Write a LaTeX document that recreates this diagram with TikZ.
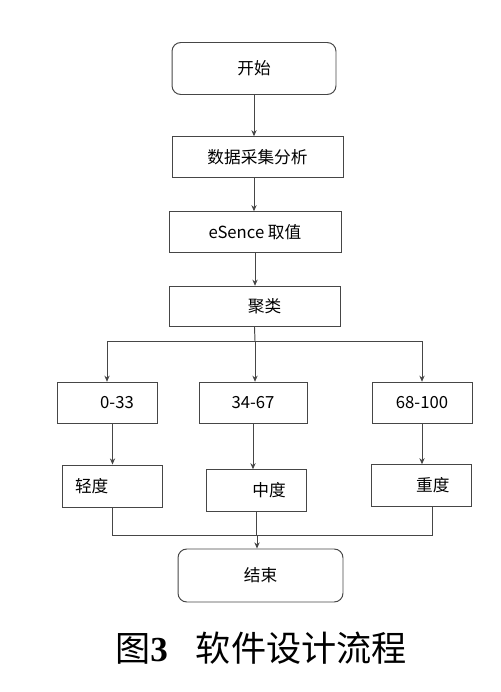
\documentclass[tikz,border=0pt]{standalone}
\usepackage{fontspec}
\setmainfont{Noto Sans CJK SC}
\newfontfamily\numfont{Liberation Serif}
\usepackage{tikz}
\usetikzlibrary{arrows.meta, positioning, calc}
\definecolor{mydark}{RGB}{70,70,70}
\tikzset{
  term/.style={rectangle, draw=mydark, rounded corners=5pt,
    minimum width=3.28cm, minimum height=1.04cm, align=center,
    font=\fontsize{9.5}{11}\selectfont, line width=0.55pt},
  proc/.style={rectangle, draw=mydark,
    minimum width=3.42cm, minimum height=0.81cm, align=center,
    font=\fontsize{9.5}{11}\selectfont, line width=0.55pt},
  rangebox/.style={rectangle, draw=mydark,
    minimum width=2cm, minimum height=0.83cm, align=center,
    font=\fontsize{9.5}{11}\selectfont, line width=0.55pt},
  arrow/.style={-{Stealth[length=3.5pt, width=3pt]}, line width=0.55pt, color=mydark},
  line/.style={line width=0.55pt, color=mydark}
}
\begin{document}
\begin{tikzpicture}[x=0.02cm, y=-0.02cm]
  \useasboundingbox (0,0) rectangle (500,692);

  % Main chain
  \node[term] (start) at (254, 68.5) {开始};
  \node[proc] (collect) at (257.5, 157) {数据采集分析};
  \node[proc, minimum width=3.44cm] (value) at (255, 232) {eSence 取值};
  \node[proc] (cluster) at (254.5, 306.5) {\hspace*{0.4cm}聚类};

  % Ranges
  \node[rangebox] (r1) at (107, 403) {\hspace*{0.4cm}0-33};
  \node[rangebox, minimum width=2.16cm] (r2) at (253, 403) {34-67};
  \node[rangebox] (r3) at (422, 403) {68-100};

  % Levels
  \node[rangebox, minimum height=0.84cm, text width=1.5cm, inner xsep=0.24cm, align=left] (lvl1) at (112.5, 486) {轻度};
  \node[rangebox] (lvl2) at (256.5, 490.5) {\hspace*{0.5cm}中度};
  \node[rangebox] (lvl3) at (421.5, 485.5) {\hspace*{0.45cm}重度};

  \node[term, minimum width=3.3cm, minimum height=1.06cm] (stop) at (260.5, 575.5) {结束};

  % Caption
  \node[font=\fontsize{20}{24}\selectfont] (cap) at (261, 648)
    {图{\numfont\bfseries 3}\hspace{0.8em}软件设计流程};

  % Paths
  \draw[arrow] (start.south) -- (start.south |- collect.north);
  \draw[arrow] (start.south |- collect.south) -- (start.south |- value.north);
  \draw[arrow] (value.south) -- (value.south |- cluster.north);

  % Split
  \coordinate (split) at (255, 341);
  \draw[line] (cluster.south) -- (split);
  \draw[arrow] (split) -| (r1.north);
  \draw[arrow] (split) -- (split |- r2.north);
  \draw[arrow] (split) -| (r3.north);

  \draw[arrow] (lvl1.north |- r1.south) -- (lvl1.north);
  \draw[arrow] (r2.south) -- (r2.south |- lvl2.north);
  \draw[arrow] (r3.south) -- (r3.south |- lvl3.north);

  % Merge
  \coordinate (merge) at (257, 535);
  \draw[line] (lvl1.south) |- (merge);
  \draw[line] ([xshift=0.22cm]lvl3.south) |- (merge);
  \draw[line] (lvl2.south) -- (lvl2.south |- merge);
  \draw[arrow] (merge) -- (merge |- stop.north);
\end{tikzpicture}
\end{document}
